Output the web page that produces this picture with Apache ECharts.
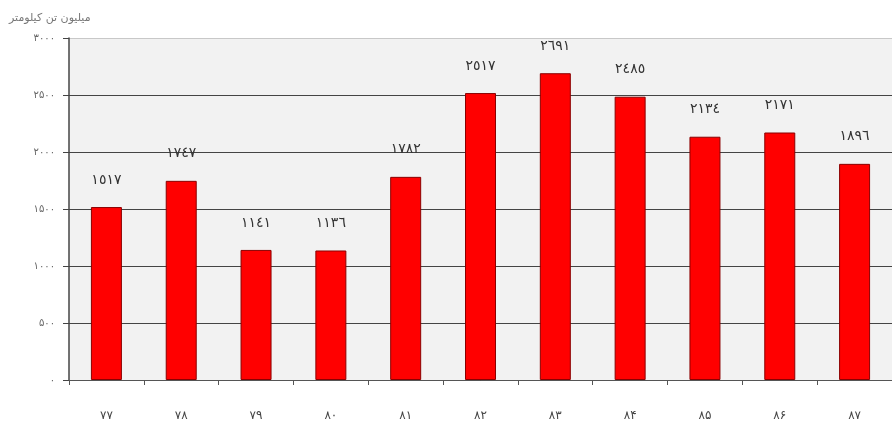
<!DOCTYPE html>
<html>
<head>
<meta charset="utf-8">
<script src="https://cdn.jsdelivr.net/npm/echarts@6/dist/echarts.min.js"></script>
<style>
  html, body { margin: 0; padding: 0; background: #ffffff; }
  #chart { width: 892px; height: 430px; }
</style>
</head>
<body>
<div id="chart"></div>
<script>
// Freight volume by year (million tonne-km)
const years = ['۷۷', '۷۸', '۷۹', '۸۰', '۸۱', '۸۲', '۸۳', '۸۴', '۸۵', '۸۶', '۸۷'];
const tonneKm = [1517, 1747, 1141, 1136, 1782, 2517, 2691, 2485, 2134, 2171, 1896];
const unitLabel = 'میلیون تن کیلومتر';

const persianDigits = '۰۱۲۳۴۵۶۷۸۹';
const arabicDigits = '٠١٢٣٤٥٦٧٨٩';
const toDigits = (n, set) => String(n).replace(/[0-9]/g, d => set[+d]);

const chart = echarts.init(document.getElementById('chart'));
chart.setOption({
  animation: false,
  title: {
    text: unitLabel,
    left: 4,
    top: 8,
    textStyle: { fontFamily: 'DejaVu Sans', fontSize: 11, fontWeight: 'normal', color: '#777' }
  },
  grid: {
    left: 69,
    top: 38,
    width: 831,
    height: 342,
    show: true,
    backgroundColor: '#f2f2f2',
    borderWidth: 0
  },
  xAxis: {
    type: 'category',
    data: years,
    axisLine: { lineStyle: { color: '#555', width: 1 } },
    axisTick: { show: true, length: 5, lineStyle: { color: '#555' } },
    axisLabel: { margin: 30, fontFamily: 'DejaVu Sans', fontSize: 12, color: '#444' }
  },
  yAxis: {
    type: 'value',
    min: 0,
    max: 3000,
    interval: 500,
    axisLine: { show: true, lineStyle: { color: '#444', width: 1.5 } },
    axisTick: { show: true, length: 6, lineStyle: { color: '#444' } },
    axisLabel: {
      margin: 14,
      fontFamily: 'DejaVu Sans',
      fontSize: 10,
      color: '#666',
      formatter: v => toDigits(v, persianDigits)
    },
    splitLine: {
      show: true,
      lineStyle: {
        color: ['#444', '#444', '#444', '#444', '#444', '#444', '#c8c8c8'],
        width: 1.2
      }
    }
  },
  series: [{
    type: 'bar',
    data: tonneKm,
    barWidth: 31,
    itemStyle: { color: '#ff0000', borderColor: '#8a0000', borderWidth: 1 },
    label: {
      show: true,
      position: 'top',
      distance: 20,
      fontFamily: 'DejaVu Sans',
      fontSize: 14,
      fontWeight: 'normal',
      color: '#333',
      formatter: p => toDigits(p.value, arabicDigits)
    }
  }]
});
</script>
</body>
</html>
